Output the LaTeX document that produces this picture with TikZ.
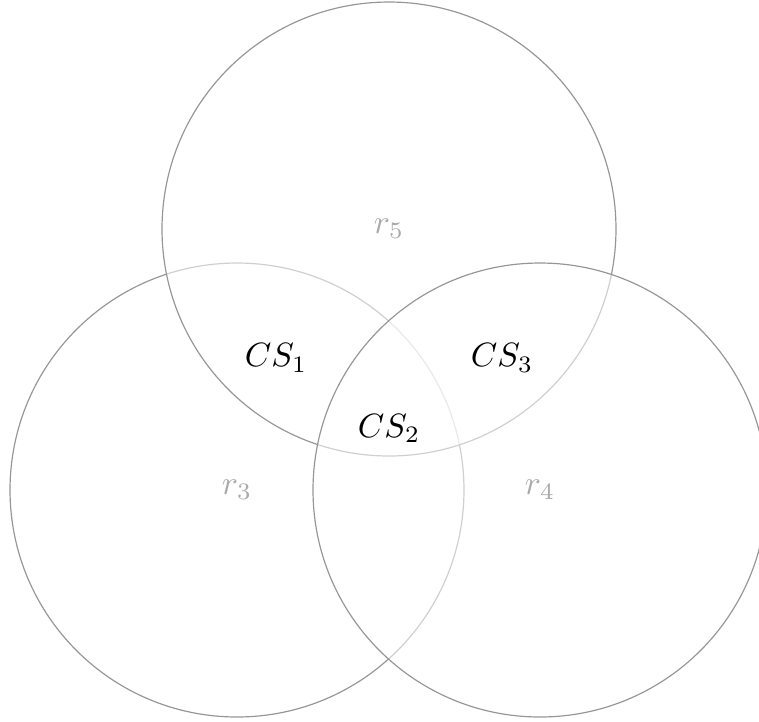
\documentclass[tikz,border=0pt]{standalone}
\usepackage{amsmath}
\usepackage{xcolor}
\definecolor{setgray}{RGB}{150,150,150}
\definecolor{labgray}{RGB}{170,170,170}
\usepackage{tikz}
\usetikzlibrary{positioning}

\begin{document}
\begin{tikzpicture}[
  x=0.2967pt,y=-0.2967pt,
  font=\normalsize,
  set/.style={circle,draw=setgray,line width=0.35pt,fill=white,fill opacity=0.55,
              text opacity=1,text=labgray,minimum size=134.7pt,inner sep=0pt},
  cs/.style={text=black,inner sep=1pt},
]
\useasboundingbox (0,0) rectangle (759,721);

% sets, drawn in this order so later ones pale the earlier lines
\node[set] (r3) at (237,490) {$r_3$};
\node[set] (r5) at (389,229) {$r_5$};
\node[set] (r4) at (540,490) {$r_4$};

% common regions
\node[cs] (cs1) at (276,358) {$CS_1$};
\node[cs] (cs2) at (389,428) {$CS_2$};
\node[cs] (cs3) at (502,358) {$CS_3$};
\end{tikzpicture}
\end{document}
